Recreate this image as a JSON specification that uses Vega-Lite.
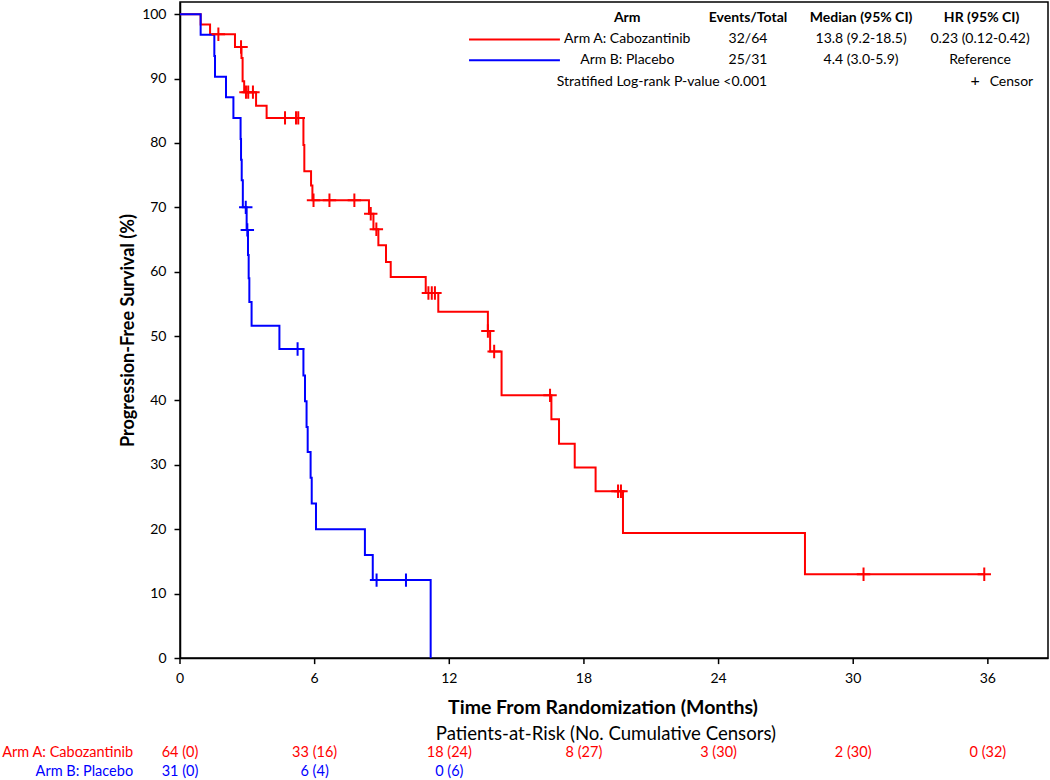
{
  "$schema": "https://vega.github.io/schema/vega-lite/v6.json",
  "width": 868,
  "height": 656,
  "autosize": {"type": "none"},
  "padding": {"left": 180, "top": 2, "right": 2, "bottom": 122},
  "background": "white",
  "config": {
    "font": "Lato",
    "view": {"stroke": "black", "strokeWidth": 1.5},
    "axis": {"domainColor": "black", "domainWidth": 1.5, "tickColor": "black", "tickWidth": 1.5, "tickSize": 6, "labelColor": "black", "labelFontSize": 14, "titleColor": "black", "titleFontSize": 18, "titleFontWeight": "bold", "grid": false, "labelOverlap": false}
  },
  "datasets": {
    "curves": [
      {"arm": "Arm A: Cabozantinib", "t": 0, "s": 100},
      {"arm": "Arm A: Cabozantinib", "t": 0.92, "s": 98.4},
      {"arm": "Arm A: Cabozantinib", "t": 1.34, "s": 96.9},
      {"arm": "Arm A: Cabozantinib", "t": 2.45, "s": 94.9},
      {"arm": "Arm A: Cabozantinib", "t": 2.74, "s": 93.2},
      {"arm": "Arm A: Cabozantinib", "t": 2.79, "s": 89.6},
      {"arm": "Arm A: Cabozantinib", "t": 2.86, "s": 87.9},
      {"arm": "Arm A: Cabozantinib", "t": 3.39, "s": 85.8},
      {"arm": "Arm A: Cabozantinib", "t": 3.86, "s": 83.9},
      {"arm": "Arm A: Cabozantinib", "t": 5.5, "s": 79.7},
      {"arm": "Arm A: Cabozantinib", "t": 5.54, "s": 75.6},
      {"arm": "Arm A: Cabozantinib", "t": 5.84, "s": 73.4},
      {"arm": "Arm A: Cabozantinib", "t": 5.9, "s": 71.1},
      {"arm": "Arm A: Cabozantinib", "t": 8.42, "s": 69.0},
      {"arm": "Arm A: Cabozantinib", "t": 8.62, "s": 66.6},
      {"arm": "Arm A: Cabozantinib", "t": 8.84, "s": 64.1},
      {"arm": "Arm A: Cabozantinib", "t": 9.18, "s": 61.5},
      {"arm": "Arm A: Cabozantinib", "t": 9.39, "s": 59.2},
      {"arm": "Arm A: Cabozantinib", "t": 10.95, "s": 56.7},
      {"arm": "Arm A: Cabozantinib", "t": 11.51, "s": 53.8},
      {"arm": "Arm A: Cabozantinib", "t": 13.72, "s": 50.8},
      {"arm": "Arm A: Cabozantinib", "t": 13.82, "s": 47.6},
      {"arm": "Arm A: Cabozantinib", "t": 14.33, "s": 40.8},
      {"arm": "Arm A: Cabozantinib", "t": 16.55, "s": 37.1},
      {"arm": "Arm A: Cabozantinib", "t": 16.89, "s": 33.3},
      {"arm": "Arm A: Cabozantinib", "t": 17.59, "s": 29.6},
      {"arm": "Arm A: Cabozantinib", "t": 18.52, "s": 25.9},
      {"arm": "Arm A: Cabozantinib", "t": 19.74, "s": 19.4},
      {"arm": "Arm A: Cabozantinib", "t": 27.85, "s": 13.0},
      {"arm": "Arm A: Cabozantinib", "t": 35.84, "s": 13.0},
      {"arm": "Arm B: Placebo", "t": 0, "s": 100},
      {"arm": "Arm B: Placebo", "t": 0.92, "s": 96.8},
      {"arm": "Arm B: Placebo", "t": 1.53, "s": 93.5},
      {"arm": "Arm B: Placebo", "t": 1.56, "s": 90.3},
      {"arm": "Arm B: Placebo", "t": 2.05, "s": 87.1},
      {"arm": "Arm B: Placebo", "t": 2.38, "s": 83.9},
      {"arm": "Arm B: Placebo", "t": 2.7, "s": 80.6},
      {"arm": "Arm B: Placebo", "t": 2.72, "s": 77.4},
      {"arm": "Arm B: Placebo", "t": 2.75, "s": 74.2},
      {"arm": "Arm B: Placebo", "t": 2.8, "s": 70.0},
      {"arm": "Arm B: Placebo", "t": 2.97, "s": 66.5},
      {"arm": "Arm B: Placebo", "t": 3.03, "s": 62.6},
      {"arm": "Arm B: Placebo", "t": 3.06, "s": 59.0},
      {"arm": "Arm B: Placebo", "t": 3.09, "s": 55.3},
      {"arm": "Arm B: Placebo", "t": 3.19, "s": 51.6},
      {"arm": "Arm B: Placebo", "t": 4.43, "s": 48.0},
      {"arm": "Arm B: Placebo", "t": 5.5, "s": 43.9},
      {"arm": "Arm B: Placebo", "t": 5.57, "s": 39.9},
      {"arm": "Arm B: Placebo", "t": 5.64, "s": 35.9},
      {"arm": "Arm B: Placebo", "t": 5.69, "s": 32.0},
      {"arm": "Arm B: Placebo", "t": 5.82, "s": 28.0},
      {"arm": "Arm B: Placebo", "t": 5.87, "s": 24.0},
      {"arm": "Arm B: Placebo", "t": 6.06, "s": 20.0},
      {"arm": "Arm B: Placebo", "t": 8.24, "s": 16.0},
      {"arm": "Arm B: Placebo", "t": 8.59, "s": 12.1},
      {"arm": "Arm B: Placebo", "t": 11.17, "s": 0}
    ],
    "censors": [
      {"arm": "Arm A: Cabozantinib", "t": 1.71, "s": 96.9},
      {"arm": "Arm A: Cabozantinib", "t": 2.72, "s": 94.9},
      {"arm": "Arm A: Cabozantinib", "t": 2.94, "s": 87.9},
      {"arm": "Arm A: Cabozantinib", "t": 3.04, "s": 87.9},
      {"arm": "Arm A: Cabozantinib", "t": 3.25, "s": 87.9},
      {"arm": "Arm A: Cabozantinib", "t": 4.68, "s": 83.9},
      {"arm": "Arm A: Cabozantinib", "t": 5.17, "s": 83.9},
      {"arm": "Arm A: Cabozantinib", "t": 5.27, "s": 83.9},
      {"arm": "Arm A: Cabozantinib", "t": 5.95, "s": 71.1},
      {"arm": "Arm A: Cabozantinib", "t": 6.66, "s": 71.1},
      {"arm": "Arm A: Cabozantinib", "t": 7.77, "s": 71.1},
      {"arm": "Arm A: Cabozantinib", "t": 8.5, "s": 69.0},
      {"arm": "Arm A: Cabozantinib", "t": 8.75, "s": 66.6},
      {"arm": "Arm A: Cabozantinib", "t": 11.07, "s": 56.7},
      {"arm": "Arm A: Cabozantinib", "t": 11.22, "s": 56.7},
      {"arm": "Arm A: Cabozantinib", "t": 11.36, "s": 56.7},
      {"arm": "Arm A: Cabozantinib", "t": 13.72, "s": 50.8},
      {"arm": "Arm A: Cabozantinib", "t": 14.0, "s": 47.6},
      {"arm": "Arm A: Cabozantinib", "t": 16.49, "s": 40.8},
      {"arm": "Arm A: Cabozantinib", "t": 19.52, "s": 25.9},
      {"arm": "Arm A: Cabozantinib", "t": 19.65, "s": 25.9},
      {"arm": "Arm A: Cabozantinib", "t": 30.46, "s": 13.0},
      {"arm": "Arm A: Cabozantinib", "t": 35.84, "s": 13.0},
      {"arm": "Arm B: Placebo", "t": 2.93, "s": 70.0},
      {"arm": "Arm B: Placebo", "t": 3.0, "s": 66.5},
      {"arm": "Arm B: Placebo", "t": 5.24, "s": 48.0},
      {"arm": "Arm B: Placebo", "t": 8.76, "s": 12.1},
      {"arm": "Arm B: Placebo", "t": 10.07, "s": 12.1}
    ],
    "risk": [
      {"arm": "Arm A: Cabozantinib", "t": 0, "label": "64 (0)"},
      {"arm": "Arm A: Cabozantinib", "t": 6, "label": "33 (16)"},
      {"arm": "Arm A: Cabozantinib", "t": 12, "label": "18 (24)"},
      {"arm": "Arm A: Cabozantinib", "t": 18, "label": "8 (27)"},
      {"arm": "Arm A: Cabozantinib", "t": 24, "label": "3 (30)"},
      {"arm": "Arm A: Cabozantinib", "t": 30, "label": "2 (30)"},
      {"arm": "Arm A: Cabozantinib", "t": 36, "label": "0 (32)"},
      {"arm": "Arm B: Placebo", "t": 0, "label": "31 (0)"},
      {"arm": "Arm B: Placebo", "t": 6, "label": "6 (4)"},
      {"arm": "Arm B: Placebo", "t": 12, "label": "0 (6)"}
    ],
    "xticks": [
      {"t": 0}, {"t": 6}, {"t": 12}, {"t": 18}, {"t": 24}, {"t": 30}, {"t": 36}
    ]
  },
  "layer": [
    {
      "data": {"name": "curves"},
      "mark": {"type": "line", "interpolate": "step-after", "strokeWidth": 2},
      "encoding": {
        "x": {"field": "t", "type": "quantitative", "scale": {"domain": [0, 38.68], "nice": false, "zero": false},
          "axis": {"values": [0, 6, 12, 18, 24, 30, 36], "title": null, "labels": false, "ticks": false}},
        "y": {"field": "s", "type": "quantitative", "scale": {"domain": [0, 101.9], "nice": false},
          "axis": {"values": [0, 10, 20, 30, 40, 50, 60, 70, 80, 90, 100], "title": "Progression-Free Survival (%)", "labelPadding": 8, "titlePadding": 4, "labelFlush": false, "labelOverlap": false}},
        "color": {"field": "arm", "type": "nominal", "scale": {"domain": ["Arm A: Cabozantinib", "Arm B: Placebo"], "range": ["#ff0000", "#0000ff"]}, "legend": null}
      }
    },
    {
      "data": {"name": "xticks"},
      "mark": {"type": "rule", "color": "black", "strokeWidth": 1.5},
      "encoding": {
        "x": {"field": "t", "type": "quantitative"},
        "y": {"datum": 0},
        "y2": {"datum": -0.95}
      }
    },
    {
      "data": {"name": "xticks"},
      "mark": {"type": "text", "fontSize": 14, "align": "center", "baseline": "middle", "color": "black"},
      "encoding": {
        "x": {"field": "t", "type": "quantitative"},
        "y": {"datum": -3.3},
        "text": {"field": "t", "type": "quantitative"}
      }
    },
    {
      "data": {"name": "censors"},
      "mark": {"type": "point", "shape": "M-1,0H1M0,-1V1", "filled": false, "size": 180, "strokeWidth": 2, "opacity": 1},
      "encoding": {
        "x": {"field": "t", "type": "quantitative"},
        "y": {"field": "s", "type": "quantitative"},
        "color": {"field": "arm", "type": "nominal"}
      }
    },
    {
      "data": {"name": "risk"},
      "transform": [{"filter": "datum.arm == 'Arm A: Cabozantinib'"}],
      "mark": {"type": "text", "fontSize": 14.5, "align": "center", "baseline": "middle"},
      "encoding": {
        "x": {"field": "t", "type": "quantitative"},
        "y": {"datum": -14.8},
        "text": {"field": "label"},
        "color": {"field": "arm", "type": "nominal"}
      }
    },
    {
      "data": {"name": "risk"},
      "transform": [{"filter": "datum.arm == 'Arm B: Placebo'"}],
      "mark": {"type": "text", "fontSize": 14.5, "align": "center", "baseline": "middle"},
      "encoding": {
        "x": {"field": "t", "type": "quantitative"},
        "y": {"datum": -17.75},
        "text": {"field": "label"},
        "color": {"field": "arm", "type": "nominal"}
      }
    },
    {
      "data": {"values": [{"arm": "Arm A: Cabozantinib"}]},
      "mark": {"type": "text", "fontSize": 14.5, "align": "right", "baseline": "middle"},
      "encoding": {
        "x": {"datum": -2.09},
        "y": {"datum": -14.8},
        "text": {"field": "arm"},
        "color": {"field": "arm", "type": "nominal"}
      }
    },
    {
      "data": {"values": [{"arm": "Arm B: Placebo"}]},
      "mark": {"type": "text", "fontSize": 14.5, "align": "right", "baseline": "middle"},
      "encoding": {
        "x": {"datum": -2.09},
        "y": {"datum": -17.75},
        "text": {"field": "arm"},
        "color": {"field": "arm", "type": "nominal"}
      }
    },
    {
      "data": {"values": [{"label": "Time From Randomization (Months)"}]},
      "mark": {"type": "text", "fontSize": 19.5, "fontWeight": "bold", "align": "center", "baseline": "middle", "color": "black"},
      "encoding": {"x": {"datum": 18.85}, "y": {"datum": -7.75}, "text": {"field": "label"}}
    },
    {
      "data": {"values": [{"label": "Patients-at-Risk (No. Cumulative Censors)"}]},
      "mark": {"type": "text", "fontSize": 18.6, "align": "center", "baseline": "middle", "color": "black"},
      "encoding": {"x": {"datum": 18.98}, "y": {"datum": -11.75}, "text": {"field": "label"}}
    },
    {
      "data": {"values": [{"arm": "Arm A: Cabozantinib", "s": 96.09}, {"arm": "Arm B: Placebo", "s": 92.87}]},
      "mark": {"type": "rule", "strokeWidth": 2},
      "encoding": {"x": {"datum": 12.88}, "x2": {"datum": 16.93}, "y": {"field": "s", "type": "quantitative"}, "color": {"field": "arm", "type": "nominal"}}
    },
    {
      "data": {"values": [{"label": "Arm"}]},
      "mark": {"type": "text", "fontSize": 14, "fontWeight": "bold", "align": "center", "baseline": "middle", "color": "black"},
      "encoding": {"x": {"datum": 19.93}, "y": {"datum": 99.35}, "text": {"field": "label"}}
    },
    {
      "data": {"values": [{"label": "Events/Total"}]},
      "mark": {"type": "text", "fontSize": 14, "fontWeight": "bold", "align": "center", "baseline": "middle", "color": "black"},
      "encoding": {"x": {"datum": 25.31}, "y": {"datum": 99.35}, "text": {"field": "label"}}
    },
    {
      "data": {"values": [{"label": "Median (95% CI)"}]},
      "mark": {"type": "text", "fontSize": 14, "fontWeight": "bold", "align": "center", "baseline": "middle", "color": "black"},
      "encoding": {"x": {"datum": 30.35}, "y": {"datum": 99.35}, "text": {"field": "label"}}
    },
    {
      "data": {"values": [{"label": "HR (95% CI)"}]},
      "mark": {"type": "text", "fontSize": 14, "fontWeight": "bold", "align": "center", "baseline": "middle", "color": "black"},
      "encoding": {"x": {"datum": 35.72}, "y": {"datum": 99.35}, "text": {"field": "label"}}
    },
    {
      "data": {"values": [{"label": "Arm A: Cabozantinib", "s": 96.09}, {"label": "Arm B: Placebo", "s": 92.87}]},
      "mark": {"type": "text", "fontSize": 14, "align": "center", "baseline": "middle", "color": "black"},
      "encoding": {"x": {"datum": 19.93}, "y": {"field": "s", "type": "quantitative"}, "text": {"field": "label"}}
    },
    {
      "data": {"values": [{"label": "32/64", "s": 96.09}, {"label": "25/31", "s": 92.87}]},
      "mark": {"type": "text", "fontSize": 14, "align": "center", "baseline": "middle", "color": "black"},
      "encoding": {"x": {"datum": 25.31}, "y": {"field": "s", "type": "quantitative"}, "text": {"field": "label"}}
    },
    {
      "data": {"values": [{"label": "13.8 (9.2-18.5)", "s": 96.09}, {"label": "4.4 (3.0-5.9)", "s": 92.87}]},
      "mark": {"type": "text", "fontSize": 14, "align": "center", "baseline": "middle", "color": "black"},
      "encoding": {"x": {"datum": 30.35}, "y": {"field": "s", "type": "quantitative"}, "text": {"field": "label"}}
    },
    {
      "data": {"values": [{"label": "0.23 (0.12-0.42)", "s": 96.09}, {"label": "Reference", "s": 92.87}]},
      "mark": {"type": "text", "fontSize": 14, "align": "center", "baseline": "middle", "color": "black"},
      "encoding": {"x": {"datum": 35.65}, "y": {"field": "s", "type": "quantitative"}, "text": {"field": "label"}}
    },
    {
      "data": {"values": [{"label": "Stratified Log-rank P-value <0.001"}]},
      "mark": {"type": "text", "fontSize": 14, "align": "center", "baseline": "middle", "color": "black"},
      "encoding": {"x": {"datum": 21.48}, "y": {"datum": 89.53}, "text": {"field": "label"}}
    },
    {
      "data": {"values": [{"label": "+"}]},
      "mark": {"type": "text", "fontSize": 16, "align": "center", "baseline": "middle", "color": "black"},
      "encoding": {"x": {"datum": 35.43}, "y": {"datum": 89.6}, "text": {"field": "label"}}
    },
    {
      "data": {"values": [{"label": "Censor"}]},
      "mark": {"type": "text", "fontSize": 14, "align": "left", "baseline": "middle", "color": "black"},
      "encoding": {"x": {"datum": 36.08}, "y": {"datum": 89.53}, "text": {"field": "label"}}
    }
  ]
}
